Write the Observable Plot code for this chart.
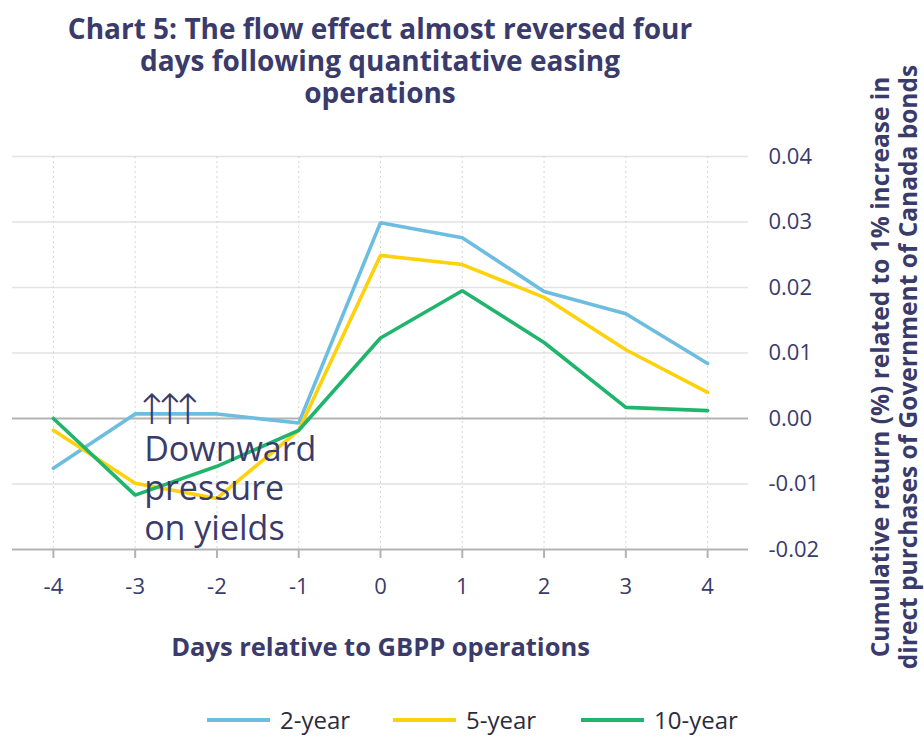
<!DOCTYPE html>
<html><head><meta charset="utf-8">
<script src="https://cdn.jsdelivr.net/npm/d3@7"></script>
<script src="https://cdn.jsdelivr.net/npm/@observablehq/plot@0.6"></script>
<style>
body{margin:0;background:#fff;font-family:"Open Sans",sans-serif;}
#wrap{position:relative;width:924px;height:736px;overflow:hidden;}
#title{position:absolute;left:12px;width:736px;top:12px;text-align:center;font-weight:700;font-size:28px;line-height:32px;color:#3a3b6b;}
#chart{position:absolute;left:0;top:0;}
#ylabel{position:absolute;width:780px;height:56px;left:504px;top:339px;transform:rotate(-90deg);transform-origin:50% 50%;text-align:center;white-space:pre-line;font-weight:700;font-size:24.5px;line-height:28px;color:#3a3b6b;}
#legend{position:absolute;top:706px;left:207px;width:700px;height:28px;font-size:24px;line-height:28px;color:#2c2c3c;}
#legend .item{position:absolute;top:0;display:flex;align-items:center;white-space:nowrap;}
#legend .sw{width:63px;height:4px;margin-right:10px;}
</style></head>
<body>
<div id="wrap">
  <div id="chart"></div>
  <div id="title"></div>
  <div id="ylabel"></div>
  <div id="legend"></div>
</div>
<script>
const titleText = "Chart 5: The flow effect almost reversed four<br>days following quantitative easing<br>operations";
const days = [-4, -3, -2, -1, 0, 1, 2, 3, 4];
const twoYear  = [-0.0076, 0.0007, 0.0007, -0.0007, 0.0299, 0.0276, 0.0194, 0.0160, 0.0084];
const fiveYear = [-0.0018, -0.0099, -0.0122, -0.0018, 0.0249, 0.0235, 0.0185, 0.0105, 0.0040];
const tenYear  = [0.0000, -0.0117, -0.0073, -0.0018, 0.0123, 0.0195, 0.0116, 0.0017, 0.0012];
const seriesNames = ["2-year", "5-year", "10-year"];
const seriesColors = ["#6cbde0", "#fdd20a", "#20b56c"];
const yTicks = [-0.02, -0.01, 0, 0.01, 0.02, 0.03, 0.04];
const xLabel = "Days relative to GBPP operations";
const yLabel = "Cumulative return (%) related to 1% increase in\ndirect purchases of Government of Canada bonds";
const noteText = "Downward\npressure\non yields";
const noteX = -2.89, noteY = -0.0021;
const arrowXs = [-2.80, -2.58, -2.36];
const arrowY = 0.0012;

const navy = "#3a3b6b";
const seriesValues = [twoYear, fiveYear, tenYear];
const rows = [];
seriesNames.forEach((s, i) => days.forEach((d, j) => rows.push({series: s, day: d, value: seriesValues[i][j]})));

document.getElementById("title").innerHTML = titleText;
document.getElementById("ylabel").textContent = yLabel;

const chart = Plot.plot({
  width: 924, height: 700,
  marginTop: 156, marginBottom: 151, marginLeft: 12, marginRight: 176,
  x: {domain: [-4.5, 4.5]},
  y: {domain: [-0.02, 0.04]},
  color: {domain: seriesNames, range: seriesColors},
  style: {fontFamily: "Open Sans", fontSize: "22px", color: navy, background: "#fff", overflow: "visible"},
  marks: [
    Plot.ruleY(yTicks.filter(v => v !== 0 && v !== -0.02), {stroke: "#e2e2e2", strokeWidth: 1.5}),
    Plot.ruleX(days, {stroke: "#d6d6d6", strokeWidth: 1, strokeDasharray: "2,3"}),
    Plot.ruleY([0, -0.02], {stroke: "#b3b3b3", strokeWidth: 2}),
    Plot.axisX({ticks: days, tickSize: 9, tickPadding: 20, stroke: "#b3b3b3", strokeWidth: 2, fill: navy, tickFormat: d => String(d), label: null, fontSize: 22}),
    Plot.axisY({anchor: "right", ticks: yTicks, tickSize: 0, tickPadding: 20, fill: navy, tickFormat: d => d.toFixed(2), label: null, fontSize: 22}),
    Plot.line(rows, {x: "day", y: "value", stroke: "series", strokeWidth: 3.6, strokeLinejoin: "miter"}),
    Plot.text([noteText], {x: noteX, y: noteY, text: d => d, textAnchor: "start", lineAnchor: "top", fontSize: 34, fontWeight: 400, lineHeight: 1.17, fill: navy}),
    Plot.text(arrowXs, {x: d => d, y: arrowY, text: () => "↑", fontSize: 42, fontWeight: 200, fill: navy, fontFamily: "DejaVu Sans"}),
    Plot.text([xLabel], {frameAnchor: "bottom", lineAnchor: "middle", dy: 98, text: d => d, fontWeight: 700, fontSize: 25.5, fill: navy})
  ]
});
document.getElementById("chart").appendChild(chart);

const legend = document.getElementById("legend");
const legendOffsets = [0, 186, 374];
seriesNames.forEach((s, i) => {
  const it = document.createElement("div");
  it.className = "item";
  it.style.left = legendOffsets[i] + "px";
  it.innerHTML = `<div class="sw" style="background:${seriesColors[i]}"></div><span>${s}</span>`;
  legend.appendChild(it);
});
</script>
</body></html>
